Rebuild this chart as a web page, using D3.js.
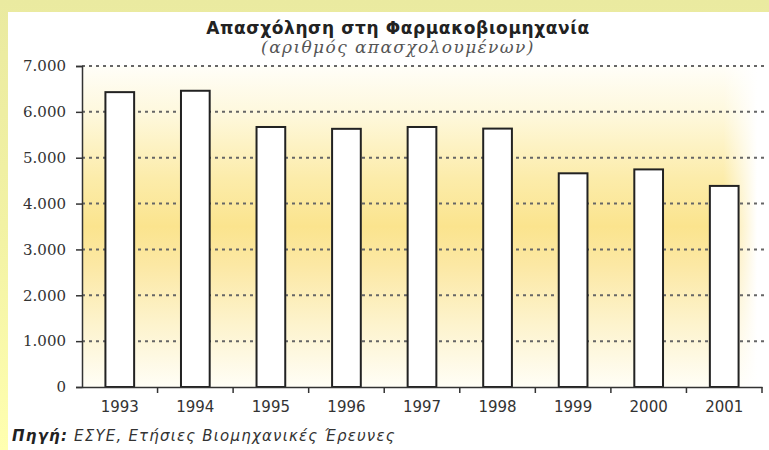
<!DOCTYPE html>
<html><head><meta charset="utf-8">
<script src="https://cdn.jsdelivr.net/npm/d3@7"></script>
<style>html,body{margin:0;padding:0;background:#ffffaa;}</style>
</head><body>
<svg id="c" width="769" height="450"></svg>
<script>
const years = ["1993","1994","1995","1996","1997","1998","1999","2000","2001"];
const employees = [6430, 6460, 5670, 5630, 5670, 5635, 4660, 4745, 4385];
const yTicks = [0,1000,2000,3000,4000,5000,6000,7000];
const title = "Απασχόληση στη Φαρμακοβιομηχανία";
const subtitle = "(αριθμός απασχολουμένων)";
const sourceLabel = "Πηγή:";
const sourceText = " ΕΣΥΕ, Ετήσιες Βιομηχανικές Έρευνες";

(function(){
const svg = d3.select("#c");
const defs = svg.append("defs");
const bg = defs.append("linearGradient").attr("id","bg").attr("x1",0).attr("y1",0).attr("x2",0).attr("y2",1);
[[0,"#eaeaa0"],[0.5,"#f2f2a4"],[1,"#ffffb0"]].forEach(([o,c])=>bg.append("stop").attr("offset",o).attr("stop-color",c));
const g1 = defs.append("linearGradient").attr("id","pg").attr("x1",0).attr("y1",0).attr("x2",0).attr("y2",1);
[[0,"#fffef8"],[0.15,"#fef8dc"],[0.35,"#fcecaa"],[0.5,"#fbe48e"],[0.62,"#fce8a4"],[0.8,"#fdf3cc"],[1,"#fffef6"]].forEach(([o,c])=>g1.append("stop").attr("offset",o).attr("stop-color",c));
const g2 = defs.append("linearGradient").attr("id","fadeR").attr("x1",0).attr("y1",0).attr("x2",1).attr("y2",0);
[[0,"#fff",0],[0.95,"#fff",0],[1,"#fff",1]].forEach(([o,c,a])=>g2.append("stop").attr("offset",o).attr("stop-color",c).attr("stop-opacity",a));

svg.append("rect").attr("width",769).attr("height",450).attr("fill","url(#bg)");
svg.append("rect").attr("x",8).attr("y",12).attr("width",761).attr("height",438).attr("fill","#ffffff");

const mLeft = 82, mRight = 762, mTop = 66, mBottom = 387;
const x = d3.scaleBand().domain(years).range([mLeft,mRight]).paddingInner(0.62).paddingOuter(0.31);
const y = d3.scaleLinear().domain([0,7000]).range([mBottom,mTop]);

svg.append("rect").attr("x",mLeft).attr("y",y(7000)).attr("width",757-mLeft).attr("height",mBottom-y(7000)).attr("fill","url(#pg)");
svg.append("rect").attr("x",mLeft).attr("y",y(7000)).attr("width",757-mLeft).attr("height",mBottom-y(7000)).attr("fill","url(#fadeR)");

// gridlines
svg.append("g").selectAll("line").data(yTicks.filter(d=>d>0)).join("line")
  .attr("x1",mLeft).attr("x2",766).attr("y1",d=>y(d)).attr("y2",d=>y(d))
  .attr("stroke","#666").attr("stroke-width",2).attr("stroke-dasharray","3,4");

// bars
svg.append("g").selectAll("rect").data(years).join("rect")
  .attr("x",d=>x(d)).attr("width",x.bandwidth())
  .attr("y",(d,i)=>y(employees[i])).attr("height",(d,i)=>mBottom-y(employees[i]))
  .attr("fill","#ffffff").attr("stroke","#222").attr("stroke-width",2);

// y axis
const yAxis = svg.append("g").attr("transform",`translate(${mLeft},0)`)
  .call(d3.axisLeft(y).tickValues(yTicks).tickSize(6).tickPadding(10).tickFormat(d=>d3.format(",")(d).replace(/,/g,".")));
yAxis.select(".domain").attr("stroke","#333").attr("stroke-width",1.5);
yAxis.selectAll(".tick line").attr("stroke","#333").attr("stroke-width",1.5);
yAxis.selectAll("text").attr("font-family","DejaVu Serif").attr("font-size",15).attr("fill","#333");

// x axis
const step = x.step();
const xAxis = svg.append("g").attr("transform",`translate(0,${mBottom})`)
  .call(d3.axisBottom(x).tickSize(0).tickPadding(14));
xAxis.select(".domain").attr("stroke","#333").attr("stroke-width",1.5);
xAxis.selectAll("text").attr("font-family","DejaVu Sans").attr("font-size",15).attr("fill","#333");
svg.append("g").selectAll("line").data(d3.range(1, years.length+1)).join("line")
  .attr("x1",k=>mLeft+k*step).attr("x2",k=>mLeft+k*step).attr("y1",mBottom).attr("y2",mBottom+6)
  .attr("stroke","#333").attr("stroke-width",1.5);

// titles
svg.append("text").attr("x",398).attr("y",34).attr("text-anchor","middle")
  .attr("font-family","DejaVu Sans").attr("font-weight","bold").attr("font-size",17).attr("letter-spacing",0.6).attr("fill","#222").text(title);
svg.append("text").attr("x",398).attr("y",53).attr("text-anchor","middle")
  .attr("font-family","DejaVu Serif").attr("font-style","italic").attr("font-size",17).attr("letter-spacing",1.4).attr("fill","#555").text(subtitle);

const src = svg.append("text").attr("x",12).attr("y",441).attr("font-family","DejaVu Sans").attr("font-style","italic").attr("font-size",15).attr("letter-spacing",1.2).attr("fill","#333");
src.append("tspan").attr("font-weight","bold").attr("fill","#222").text(sourceLabel);
src.append("tspan").text(sourceText);
})();
</script>
</body></html>
